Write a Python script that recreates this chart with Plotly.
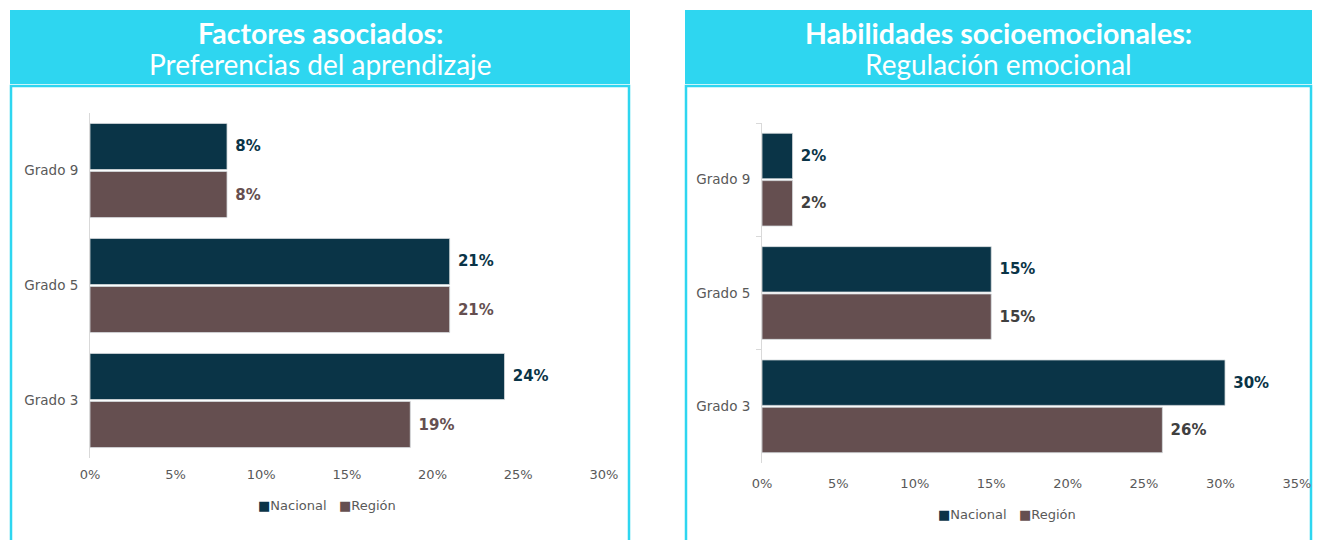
import plotly.graph_objects as go

# ---- data ----
grados = ["Grado 9", "Grado 5", "Grado 3"]
pref_nacional = [0.080, 0.210, 0.242]
pref_region = [0.080, 0.210, 0.187]
reg_nacional = [0.020, 0.150, 0.303]
reg_region = [0.020, 0.150, 0.262]
series_names = ["Nacional", "Región"]
titles_left = ["Factores asociados:", "Preferencias del aprendizaje"]
titles_right = ["Habilidades socioemocionales:", "Regulación emocional"]

W, H = 1320, 540
C_NAC = "#0a3447"
C_REG = "#654f50"
C_REG_LBL_RIGHT = "#404040"
CYAN = "#2ed6f0"
GRAY = "#595959"
FONT = "DejaVu Sans"

def px(x):
    return x / W

def py(y):
    return 1 - y / H

fig = go.Figure()

def add_pair(nac, reg, xa, ya, reg_lbl_color):
    for name, vals, col, lcol in [
        (series_names[0], nac, C_NAC, C_NAC),
        (series_names[1], reg, C_REG, reg_lbl_color),
    ]:
        fig.add_trace(go.Bar(
            y=grados, x=vals, orientation="h", name=name,
            marker=dict(color=col, line=dict(color="#d5dadd", width=0.8)),
            texttemplate=" %{x:.0%}", textposition="outside",
            textfont=dict(family=FONT, size=15, color=lcol, weight="bold"),
            cliponaxis=False, xaxis=xa, yaxis=ya, showlegend=False,
            hoverinfo="skip",
        ))

add_pair(pref_nacional, pref_region, "x", "y", C_REG)
add_pair(reg_nacional, reg_region, "x2", "y2", C_REG_LBL_RIGHT)

common_x = dict(showgrid=False, zeroline=False, showline=False, tickformat=".0%",
                dtick=0.05, tick0=0, tickfont=dict(family=FONT, size=13, color=GRAY),
                ticks="", fixedrange=True, automargin=False)
common_y = dict(autorange="reversed", showgrid=False, showline=True, linecolor="#d9d9d9",
                linewidth=1, tickfont=dict(family=FONT, size=13.5, color=GRAY),
                ticklabelstandoff=8, automargin=False)

fig.update_layout(
    width=W, height=H, margin=dict(l=0, r=0, t=0, b=0, autoexpand=False),
    paper_bgcolor="white", plot_bgcolor="white",
    barmode="group", bargap=0.165, bargroupgap=0.04,
    showlegend=False,
    xaxis=dict(domain=[px(90), px(604)], range=[0, 0.3001], anchor="y",
               ticklabelstandoff=7, **common_x),
    yaxis=dict(domain=[py(458), py(113)], anchor="x", ticks="", **common_y),
    xaxis2=dict(domain=[px(762), px(1297)], range=[0, 0.3501], anchor="y2",
                ticklabelstandoff=11, **common_x),
    yaxis2=dict(domain=[py(463), py(123)], anchor="x2", ticks="outside", tickson="boundaries",
                ticklen=5, tickcolor="#d9d9d9", **common_y),
)

shapes = []
for x0, x1 in [(10, 630), (685, 1312)]:
    shapes.append(dict(type="rect", xref="paper", yref="paper",
                       x0=px(x0 + 1), x1=px(x1 - 1), y0=py(560), y1=py(86),
                       line=dict(color=CYAN, width=2.5), fillcolor="rgba(0,0,0,0)", layer="below"))
    shapes.append(dict(type="rect", xref="paper", yref="paper",
                       x0=px(x0), x1=px(x1), y0=py(84), y1=py(10),
                       line=dict(width=0), fillcolor=CYAN, layer="below"))
fig.update_layout(shapes=shapes)

TFONT = "Lato"
for cx, (t1, t2) in [(320, titles_left), (998, titles_right)]:
    fig.add_annotation(x=px(cx), y=py(51), xref="paper", yref="paper", text=t1, showarrow=False,
                       xanchor="center", yanchor="bottom", borderpad=0,
                       font=dict(family=TFONT, size=28.5, color="white", weight="bold"))
    fig.add_annotation(x=px(cx), y=py(46), xref="paper", yref="paper", text=t2, showarrow=False,
                       xanchor="center", yanchor="top", borderpad=0,
                       font=dict(family=TFONT, size=28, color="white"))

# legends (compact square + label, as in the reference)
def legend_text():
    return (f"<span style='color:{C_NAC}'>■</span>{series_names[0]}   "
            f"<span style='color:{C_REG}'>■</span>{series_names[1]}")

for cx, cy in [(327, 505), (1007, 514)]:
    fig.add_annotation(x=px(cx), y=py(cy), xref="paper", yref="paper", text=legend_text(),
                       showarrow=False, xanchor="center", yanchor="middle",
                       font=dict(family=FONT, size=13, color=GRAY))

fig.write_html("out.html", config={"displayModeBar": False},
               post_script="document.body.style.margin='0';")
